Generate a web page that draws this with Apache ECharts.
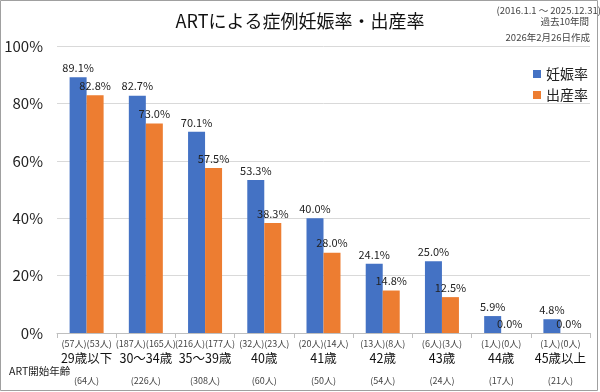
<!DOCTYPE html>
<html>
<head>
<meta charset="utf-8">
<script src="https://cdn.jsdelivr.net/npm/echarts@6/dist/echarts.min.js"></script>
<style>
html,body{margin:0;padding:0;background:#fff;}
#chart{width:600px;height:392px;}
</style>
</head>
<body>
<div id="chart"></div>
<script>
const categories = ['29歳以下','30～34歳','35～39歳','40歳','41歳','42歳','43歳','44歳','45歳以上'];
const pregnancyRate = [89.1, 82.7, 70.1, 53.3, 40.0, 24.1, 25.0, 5.9, 4.8];
const birthRate = [82.8, 73.0, 57.5, 38.3, 28.0, 14.8, 12.5, 0.0, 0.0];
const pregnancyCount = [57, 187, 216, 32, 20, 13, 6, 1, 1];
const birthCount = [53, 165, 177, 23, 14, 8, 3, 0, 0];
const totalCount = [64, 226, 308, 60, 50, 54, 24, 17, 21];
const seriesNames = ['妊娠率', '出産率'];
const yTicks = [0, 20, 40, 60, 80, 100];

const FONT = '"Noto Sans CJK JP", "Noto Sans", sans-serif';
const chart = echarts.init(document.getElementById('chart'));

chart.setOption({
  backgroundColor: '#fff',
  textStyle: { fontFamily: FONT },
  animation: false,
  title: [
    { text: 'ARTによる症例妊娠率・出産率', left: 'center', top: 7,
      textStyle: { fontSize: 18, fontWeight: 'normal', color: '#111', fontFamily: FONT } },
    { text: '(2016.1.1 ～ 2025.12.31)', right: -6, top: 1,
      textStyle: { fontSize: 9.5, fontWeight: 'normal', color: '#444', fontFamily: FONT } },
    { text: '過去10年間', right: 6, top: 12,
      textStyle: { fontSize: 9.5, fontWeight: 'normal', color: '#444', fontFamily: FONT } },
    { text: '2026年2月26日作成', right: 5, top: 28,
      textStyle: { fontSize: 9.5, fontWeight: 'normal', color: '#444', fontFamily: FONT } },
    { text: 'ART開始年齢', left: 4, top: 361,
      textStyle: { fontSize: 10.5, fontWeight: 'normal', color: '#222', fontFamily: FONT } }
  ],
  graphic: [
    { type: 'rect', shape: { x: 0.5, y: 0.5, width: 597, height: 390 },
      style: { fill: 'none', stroke: '#a0a0a0', lineWidth: 1 }, silent: true }
  ],
  legend: {
    data: seriesNames,
    orient: 'vertical',
    left: 528,
    top: 62,
    itemWidth: 8,
    itemHeight: 8,
    itemGap: 7,
    icon: 'rect',
    textStyle: { fontSize: 14, color: '#222', fontFamily: FONT }
  },
  grid: { left: 57, right: 10, top: 46, bottom: 59, containLabel: false },
  xAxis: {
    type: 'category',
    data: categories,
    axisLine: { lineStyle: { color: '#bfbfbf', width: 1 } },
    axisTick: { show: true, length: 5, lineStyle: { color: '#bfbfbf' } },
    axisLabel: {
      interval: 0,
      margin: 5,
      formatter: function (v, i) {
        return '{a|(' + pregnancyCount[i] + '人)(' + birthCount[i] + '人)}\n{b|' + v + '}\n{c|(' + totalCount[i] + '人)}';
      },
      rich: {
        a: { fontSize: 9, lineHeight: 12, color: '#444', fontFamily: FONT },
        b: { fontSize: 12.5, lineHeight: 16, color: '#111', fontFamily: FONT },
        c: { fontSize: 9, lineHeight: 30, color: '#444', fontFamily: FONT }
      }
    }
  },
  yAxis: {
    type: 'value',
    min: 0,
    max: 100,
    interval: 20,
    axisLine: { show: false },
    axisTick: { show: false },
    splitLine: { lineStyle: { color: '#d9d9d9', width: 1 } },
    axisLabel: {
      margin: 14,
      fontSize: 15,
      color: '#222',
      fontFamily: FONT,
      formatter: function (v) { return yTicks.indexOf(v) >= 0 ? v + '%' : ''; }
    }
  },
  series: [
    {
      name: seriesNames[0],
      type: 'bar',
      data: pregnancyRate,
      barWidth: 17,
      barGap: '0%',
      itemStyle: { color: '#4472C4' },
      label: { show: true, position: 'top', distance: 4, fontSize: 11, color: '#222',
        fontFamily: FONT, formatter: p => p.value.toFixed(1) + '%' }
    },
    {
      name: seriesNames[1],
      type: 'bar',
      data: birthRate,
      barWidth: 17,
      barGap: '0%',
      itemStyle: { color: '#ED7D31' },
      label: { show: true, position: 'top', distance: 4, fontSize: 11, color: '#222',
        fontFamily: FONT, formatter: p => p.value.toFixed(1) + '%' }
    }
  ]
});
</script>
</body>
</html>
